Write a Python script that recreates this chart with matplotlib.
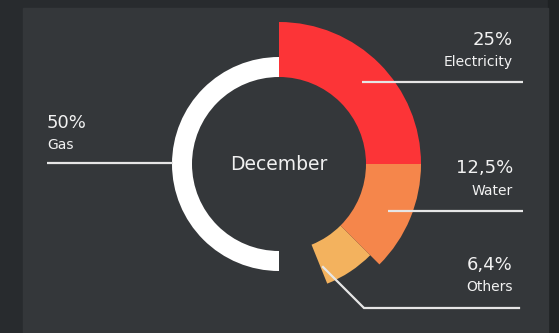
import matplotlib
matplotlib.use("Agg")
import matplotlib.pyplot as plt
from matplotlib.patches import Wedge, Rectangle

# Energy share for December
categories = ["Electricity", "Water", "Others", "Gas"]
shares = [25, 12.5, 6.4, 50]
value_labels = ["25%", "12,5%", "6,4%", "50%"]
colors = ["#fc3437", "#f5864b", "#f3b25e", "#ffffff"]
title = "December"

W, H = 559, 333
fig = plt.figure(figsize=(W / 100, H / 100), dpi=100)
fig.patch.set_facecolor("#282b2e")
ax = fig.add_axes([0, 0, 1, 1])
ax.set_xlim(0, W)
ax.set_ylim(H, 0)
ax.set_aspect("equal")
ax.axis("off")

# card background
ax.add_patch(Rectangle((548, 0), W - 548, H, color="#1f2224", zorder=0))
ax.add_patch(Rectangle((23, 8), 525, H, color="#34373a", zorder=1))

cx, cy = 279, 164
r_in = 87
outer = {"Electricity": 142, "Water": 142, "Others": 129, "Gas": 107}

# y axis is inverted, so clockwise on screen is increasing angle
def ang(frac):
    return -90 + 360 * frac

cum = 0.0
for cat, s, col in zip(categories, shares, colors):
    frac = s / 100
    if cat == "Gas":
        t1, t2 = ang(1 - frac), ang(1)
    else:
        t1, t2 = ang(cum), ang(cum + frac)
        cum += frac
    ro = outer[cat]
    z = 2 if cat in ("Others", "Gas") else 3
    ax.add_patch(Wedge((cx, cy), ro, t1, t2, width=ro - r_in,
                       facecolor=col, edgecolor="none", zorder=z))

ax.text(cx, cy, title, ha="center", va="center", color="#f0f0f0",
        fontsize=13.5, zorder=5)

line_col = "#e6e6e6"
lw = 1.6
txt = "#f2f2f2"
big, small = 13, 10

# Electricity
ax.plot([362, 523], [82, 82], color=line_col, lw=lw, zorder=6, solid_capstyle="butt")
ax.text(513, 40, value_labels[0], ha="right", va="center", color=txt, fontsize=big, zorder=6)
ax.text(513, 62, categories[0], ha="right", va="center", color=txt, fontsize=small, zorder=6)

# Water
ax.plot([388, 523], [211, 211], color=line_col, lw=lw, zorder=6, solid_capstyle="butt")
ax.text(513, 168, value_labels[1], ha="right", va="center", color=txt, fontsize=big, zorder=6)
ax.text(513, 191, categories[1], ha="right", va="center", color=txt, fontsize=small, zorder=6)

# Others
ax.plot([323, 364, 519], [267, 308, 308], color=line_col, lw=lw, zorder=6,
        solid_joinstyle="miter")
ax.text(513, 265, value_labels[2], ha="right", va="center", color=txt, fontsize=big, zorder=6)
ax.text(513, 287, categories[2], ha="right", va="center", color=txt, fontsize=small, zorder=6)

# Gas
ax.plot([47, 173], [163, 163], color=line_col, lw=lw, zorder=6, solid_capstyle="butt")
ax.text(47, 123, value_labels[3], ha="left", va="center", color=txt, fontsize=big, zorder=6)
ax.text(47, 145, categories[3], ha="left", va="center", color=txt, fontsize=small, zorder=6)

fig.savefig("out.png", dpi=100, facecolor=fig.get_facecolor())
